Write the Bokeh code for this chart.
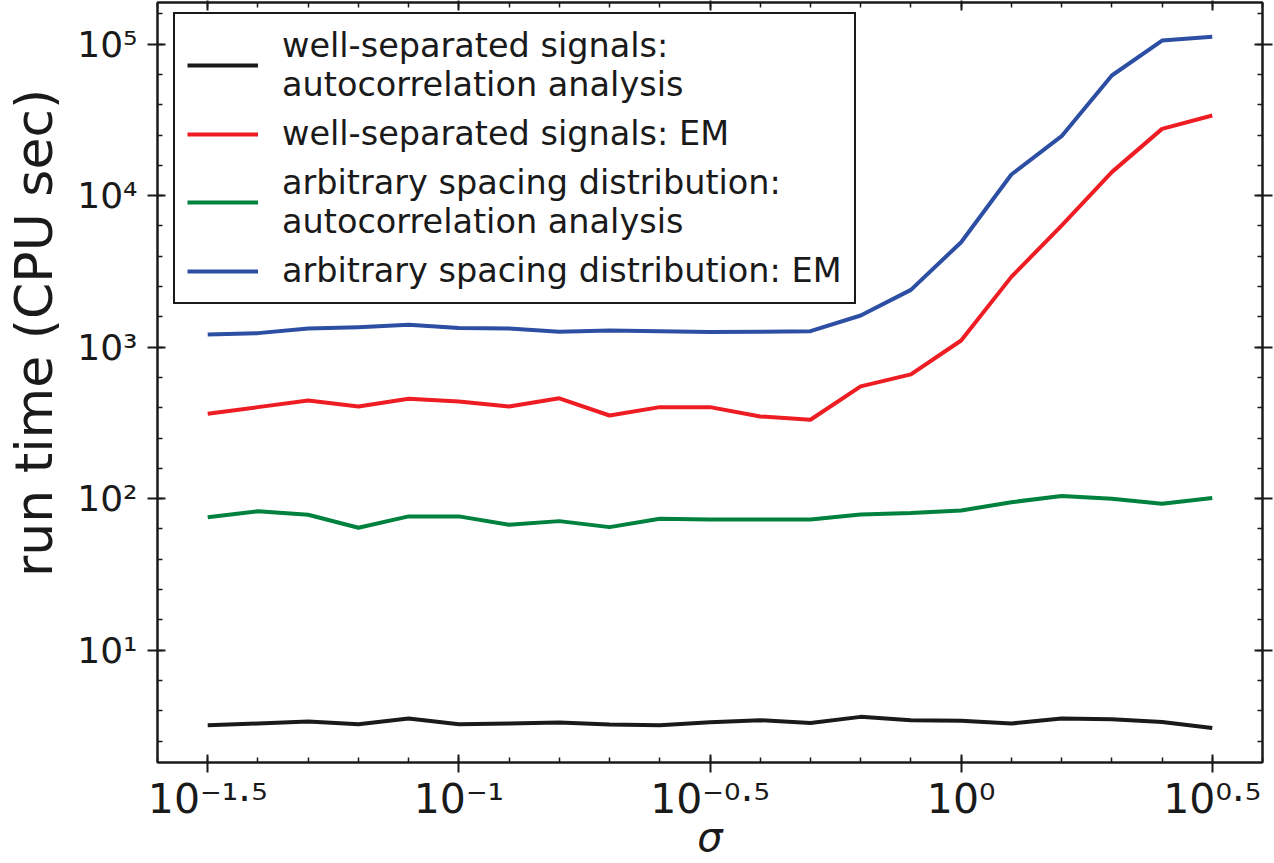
from bokeh.plotting import figure
from bokeh.models import (Range1d, FixedTicker, LogAxis, Legend, LegendItem,
                          CustomJSTickFormatter)
from bokeh.embed import file_html
from bokeh.resources import INLINE

# ---- data ----
sigma = [0.03162, 0.03981, 0.05012, 0.06310, 0.07943, 0.1, 0.12589, 0.15849,
         0.19953, 0.25119, 0.31623, 0.39811, 0.50119, 0.63096, 0.79433, 1.0,
         1.25893, 1.58489, 1.99526, 2.51189, 3.16228]

well_sep_autocorr = [3.19, 3.28, 3.38, 3.25, 3.54, 3.25, 3.28, 3.33, 3.23, 3.19, 3.35,
                     3.45, 3.31, 3.63, 3.45, 3.42, 3.28, 3.54, 3.50, 3.36, 3.07]
well_sep_em = [363, 402, 445, 406, 456, 438, 406, 460, 354, 402, 402,
               349, 332, 551, 661, 1107, 2911, 6350, 14300, 27600, 33800]
arb_autocorr = [75.5, 82.7, 78.3, 64.3, 76.4, 76.4, 67.3, 71.1, 64.9, 73.7, 72.9,
                72.9, 72.9, 78.7, 80.3, 83.5, 94.8, 104, 100, 92.6, 101]
arb_em = [1213, 1238, 1328, 1355, 1405, 1336, 1328, 1264, 1289, 1276, 1260,
          1265, 1275, 1618, 2390, 4930, 13800, 24700, 62100, 105700, 112000]

series_labels = ["well-separated signals:\nautocorrelation analysis",
                 "well-separated signals: EM",
                 "arbitrary spacing distribution:\nautocorrelation analysis",
                 "arbitrary spacing distribution: EM"]
series_colors = ["#1a1a1a", "#ee1d23", "#00813e", "#2c4ea3"]

x_tick_values = [10 ** -1.5, 10 ** -1, 10 ** -0.5, 1.0, 10 ** 0.5]
x_tick_labels = ["10\u207b\u00b9\u00b7\u2075", "10\u207b\u00b9", "10\u207b\u2070\u00b7\u2075",
                 "10\u2070", "10\u2070\u00b7\u2075"]
y_tick_values = [10.0, 100.0, 1000.0, 10000.0, 100000.0]
y_tick_labels = ["10\u00b9", "10\u00b2", "10\u00b3", "10\u2074", "10\u2075"]

x_label = "\u03c3"
y_label = "run time (CPU sec)"

# ---- ticks (log-uniform minor ticks like the reference) ----
x_minor = [10 ** (k / 10) for k in range(-16, 7)]
y_minor = [10 ** (k / 5) for k in range(1, 27)]

FONT = "DejaVu Sans"
INK = "#1a1a1a"

p = figure(width=1274, height=863, x_axis_type="log", y_axis_type="log",
           x_range=Range1d(10 ** -1.6, 10 ** 0.6),
           y_range=Range1d(10 ** 0.2587, 10 ** 5.275),
           output_backend="svg", toolbar_location=None,
           min_border_left=157, min_border_right=12, min_border_top=2,
           min_border_bottom=101)
p.background_fill_color = "white"
p.border_fill_color = "white"
p.outline_line_color = INK
p.outline_line_width = 2
p.xgrid.visible = False
p.ygrid.visible = False

renderers = []
for ys, col in zip([well_sep_autocorr, well_sep_em, arb_autocorr, arb_em], series_colors):
    r = p.line(sigma, ys, line_color=col, line_width=4, line_join="round")
    renderers.append(r)


def style_axis(ax, ticks, minor, tick_out):
    ax.ticker = FixedTicker(ticks=ticks, minor_ticks=minor)
    ax.axis_line_color = INK
    ax.axis_line_width = 2
    ax.major_tick_line_color = INK
    ax.major_tick_line_width = 2
    ax.minor_tick_line_color = INK
    ax.minor_tick_line_width = 1.5
    ax.major_tick_in = 8
    ax.major_tick_out = tick_out
    ax.minor_tick_in = 5
    ax.minor_tick_out = 0


# bottom axis
xa = p.xaxis[0]
style_axis(xa, x_tick_values, x_minor, 10)
xa.major_label_overrides = dict(zip(x_tick_values, x_tick_labels))
xa.major_label_text_font = FONT
xa.major_label_text_font_size = "41px"
xa.major_label_text_color = INK
xa.major_label_standoff = 2
xa.axis_label = x_label
xa.axis_label_text_font = FONT
xa.axis_label_text_font_size = "40px"
xa.axis_label_text_font_style = "italic"
xa.axis_label_text_color = INK
xa.axis_label_standoff = -12

# left axis (label padded with no-break spaces so it sits above centre as in the reference)
ya = p.yaxis[0]
style_axis(ya, y_tick_values, y_minor, 10)
ya.major_label_overrides = dict(zip(y_tick_values, y_tick_labels))
ya.major_label_text_font = FONT
ya.major_label_text_font_size = "36px"
ya.major_label_text_color = INK
ya.major_label_standoff = 10
ya.axis_label = "\u00a0" * 6 + y_label
ya.axis_label_text_font = FONT
ya.axis_label_text_font_size = "52px"
ya.axis_label_text_font_style = "normal"
ya.axis_label_text_color = INK
ya.axis_label_standoff = 10

blank = CustomJSTickFormatter(code="return ''")

top = LogAxis()
style_axis(top, x_tick_values, x_minor, 2)
top.formatter = blank
top.major_label_text_font_size = "0px"
top.major_label_standoff = 0
p.add_layout(top, "above")

right = LogAxis()
style_axis(right, y_tick_values, y_minor, 10)
right.formatter = blank
right.major_label_text_font_size = "0px"
right.major_label_standoff = 0
p.add_layout(right, "right")

legend = Legend(items=[LegendItem(label=lab, renderers=[r])
                       for lab, r in zip(series_labels, renderers)],
                location=(16, 458))
legend.label_text_font = FONT
legend.label_text_font_size = "33.5px"
legend.label_text_color = INK
legend.label_text_line_height = 1.0
legend.glyph_width = 71
legend.glyph_height = 30
legend.label_standoff = 24
legend.padding = 12
legend.spacing = 10
legend.margin = 0
legend.border_line_color = INK
legend.border_line_width = 2
legend.border_line_alpha = 1.0
legend.background_fill_color = "white"
legend.background_fill_alpha = 1.0
p.add_layout(legend, "center")

open("out.html", "w").write(file_html(p, INLINE))
